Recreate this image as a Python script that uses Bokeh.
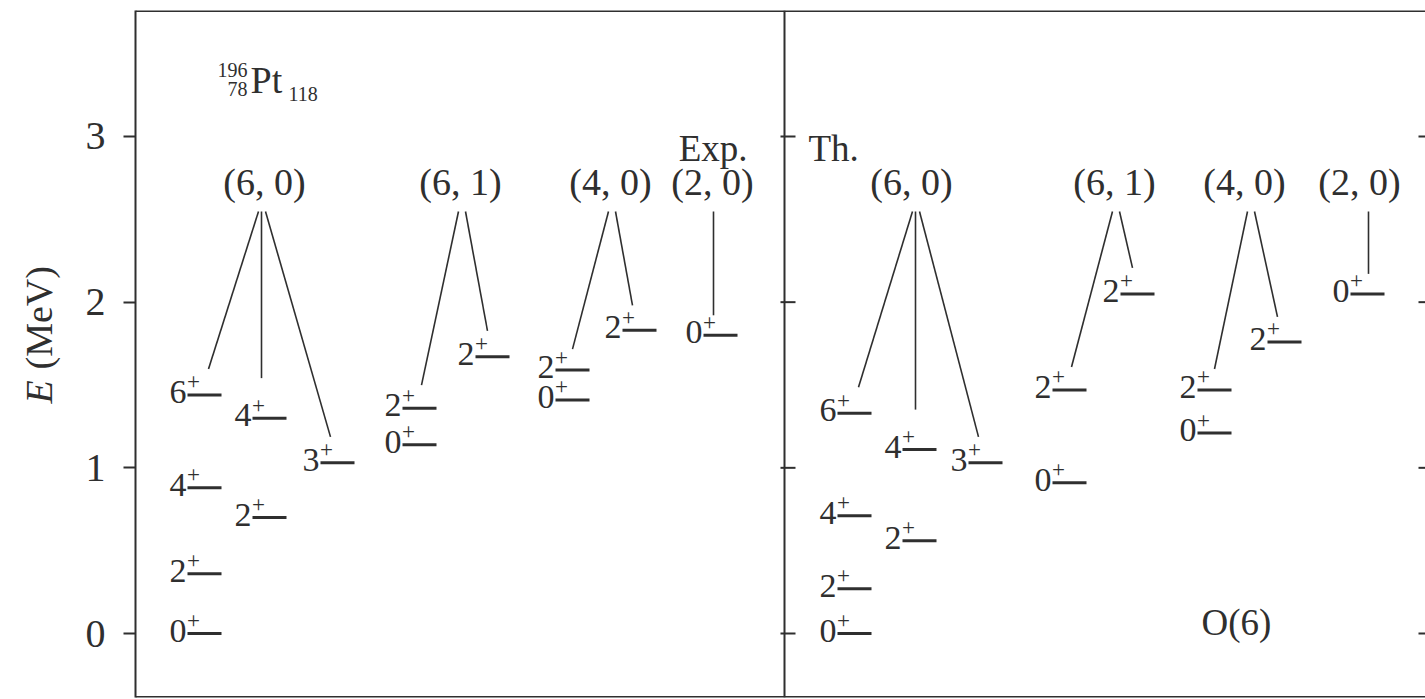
import math
from bokeh.plotting import figure
from bokeh.layouts import row as hrow
from bokeh.models import ColumnDataSource, Span, FixedTicker
from bokeh.core.properties import value
from bokeh.embed import file_html
from bokeh.resources import INLINE

# ---------------- level scheme data (energies in MeV) ----------------
spins      = [0, 2, 4, 2, 6, 4, 3, 0, 2, 2, 0, 2, 2, 0]
band_of    = ["gs", "gs", "gs", "gs",
              "(6, 0)", "(6, 0)", "(6, 0)",
              "(6, 1)", "(6, 1)", "(6, 1)",
              "(4, 0)", "(4, 0)", "(4, 0)",
              "(2, 0)"]
exp_energy = [0.00, 0.36, 0.88, 0.70, 1.44, 1.30, 1.03, 1.14, 1.36, 1.67, 1.41, 1.59, 1.83, 1.80]
th_energy  = [0.00, 0.27, 0.71, 0.56, 1.33, 1.11, 1.03, 0.91, 1.47, 2.05, 1.21, 1.47, 1.76, 2.05]
band_names = ["(6, 0)", "(6, 1)", "(4, 0)", "(2, 0)"]
energy_ticks = [0, 1, 2, 3]

# ---------------- page geometry ----------------
W, H = 1425, 699
SIDE_W = 70                         # strip that carries the energy-axis title
FRAME_L, FRAME_T, FRAME_B = 135, 10, 2
PX_PER_MEV = 165.67
ZERO_ROW = 633                      # pixel row of E = 0
frame_w = W - FRAME_L
frame_h = H - FRAME_T - FRAME_B
y_top = (ZERO_ROW - FRAME_T) / PX_PER_MEV
y_bot = y_top - frame_h / PX_PER_MEV
PANEL_W = 649                       # width of each of the two panels


def px(n):
    """pixels -> MeV on the energy axis"""
    return n / PX_PER_MEV


def row(r):
    """pixel row -> energy"""
    return (ZERO_ROW - r) / PX_PER_MEV


# column of each level inside a panel, and how its connector is drawn
level_col = ["A", "A", "A", "B", "A", "B", "C", "D", "D", "E", "F", "F", "G", "H"]
# (branch, dx from line start, px above line) ; None = no connector
connector = [None, None, None, None,
             ("L", 21, 26), ("V", 0, 40), ("R", 10, 26),
             None, ("L", 19, 23), ("R", 12, 26),
             None, ("L", 17, 21), ("R", 10, 25),
             ("V", 0, 20)]

LAYOUT = {
    "Exp": dict(x0=0,
                cols=dict(A=52, B=117, C=185, D=267, E=340, F=420, G=487, H=568),
                label_x={"(6, 0)": 129, "(6, 1)": 325, "(4, 0)": 475, "(2, 0)": 577},
                apex_x={"(6, 0)": 126, "(6, 1)": 326, "(4, 0)": 476, "(2, 0)": 578}),
    "Th": dict(x0=PANEL_W,
               cols=dict(A=53, B=118, C=184, D=268, E=336, F=413, G=483, H=566),
               label_x={"(6, 0)": 127, "(6, 1)": 330, "(4, 0)": 460, "(2, 0)": 575},
               apex_x={"(6, 0)": 131, "(6, 1)": 331, "(4, 0)": 466, "(2, 0)": 584}),
}
LINE_LEN = 34
APEX_E = row(211)
BAND_LABEL_E = row(181)

INK = "#2f2f2f"
SERIF = "Liberation Serif"

lv = dict(x0=[], x1=[], y=[], dx=[], dy=[], px_=[], py=[], spin=[], plus=[])
cn = dict(x0=[], y0=[], x1=[], y1=[])
bl = dict(x=[], y=[], text=[])

for panel, energies in (("Exp", exp_energy), ("Th", th_energy)):
    L = LAYOUT[panel]
    for i, (J, E) in enumerate(zip(spins, energies)):
        xs = L["x0"] + L["cols"][level_col[i]]
        lv["x0"].append(xs)
        lv["x1"].append(xs + LINE_LEN)
        lv["y"].append(E)
        lv["dx"].append(xs - 1)
        lv["dy"].append(E + px(3))
        lv["px_"].append(xs + 6)
        lv["py"].append(E + px(13))
        lv["spin"].append(str(J))
        lv["plus"].append("+")
        c = connector[i]
        if c is None:
            continue
        kind, ddx, ddy = c
        ax = L["x0"] + L["apex_x"][band_of[i]]
        if kind == "V":
            cn["x0"].append(ax); cn["x1"].append(ax)
        else:
            cn["x0"].append(ax - 3 if kind == "L" else ax + 4)
            cn["x1"].append(xs + ddx)
        cn["y0"].append(APEX_E)
        cn["y1"].append(E + px(ddy))
    for name in band_names:
        bl["x"].append(L["x0"] + L["label_x"][name])
        bl["y"].append(BAND_LABEL_E)
        bl["text"].append(name)

p = figure(width=W - SIDE_W, height=H, x_range=(0, frame_w), y_range=(y_bot, y_top),
           output_backend="svg", toolbar_location=None,
           x_axis_location=None, y_axis_location="left",
           min_border_left=FRAME_L - SIDE_W, min_border_top=FRAME_T,
           min_border_bottom=FRAME_B, min_border_right=0)
p.grid.visible = False
p.outline_line_color = None
p.background_fill_color = "white"
p.border_fill_color = "white"

# energy axis
ax = p.yaxis[0]
ax.ticker = FixedTicker(ticks=energy_ticks)
ax.minor_tick_line_color = None
ax.major_tick_in = 0
ax.major_tick_out = 12
ax.major_tick_line_width = 2
ax.major_tick_line_color = INK
ax.axis_line_width = 2
ax.axis_line_color = INK
ax.major_label_standoff = 18
ax.major_label_text_font = SERIF
ax.major_label_text_font_size = "40px"
ax.major_label_text_color = INK

# frame: top, bottom and the divider between the two panels
p.add_layout(Span(location=y_top, dimension="width", line_color=INK, line_width=3))
p.add_layout(Span(location=y_bot, dimension="width", line_color=INK, line_width=3))
p.add_layout(Span(location=PANEL_W, dimension="height", line_color=INK, line_width=2))

# tick marks on the divider and on the right edge
p.segment(x0=[PANEL_W - 4] * len(energy_ticks), x1=[PANEL_W + 11] * len(energy_ticks),
          y0=energy_ticks, y1=energy_ticks, line_color=INK, line_width=2)
p.segment(x0=[frame_w - 7] * len(energy_ticks), x1=[frame_w] * len(energy_ticks),
          y0=energy_ticks, y1=energy_ticks, line_color=INK, line_width=2)

src = ColumnDataSource(lv)
p.segment(x0="x0", x1="x1", y0="y", y1="y", source=src, line_color=INK, line_width=3)
p.text(x="dx", y="dy", text="spin", source=src, text_font=value(SERIF),
       text_font_size="34px", text_color=INK, text_align="right", text_baseline="middle")
p.text(x="px_", y="py", text="plus", source=src, text_font=value(SERIF),
       text_font_size="23px", text_color=INK, text_align="center", text_baseline="middle")

p.segment(x0="x0", y0="y0", x1="x1", y1="y1", source=ColumnDataSource(cn),
          line_color=INK, line_width=1.6)

p.text(x="x", y="y", text="text", source=ColumnDataSource(bl), text_font=value(SERIF),
       text_font_size="38px", text_color=INK, text_align="center", text_baseline="middle")

# panel captions
p.text(x=[612], y=[row(148)], text=["Exp."], text_font=value(SERIF), text_font_size="37px",
       text_color=INK, text_align="right", text_baseline="middle")
p.text(x=[PANEL_W + 24], y=[row(148)], text=["Th."], text_font=value(SERIF), text_font_size="37px",
       text_color=INK, text_align="left", text_baseline="middle")
p.text(x=[PANEL_W + 452], y=[row(622)], text=["O(6)"], text_font=value(SERIF), text_font_size="37px",
       text_color=INK, text_align="center", text_baseline="middle")

# nucleus symbol with mass, proton and neutron numbers
p.text(x=[112], y=[row(69)], text=["196"], text_font=value(SERIF), text_font_size="20px",
       text_color=INK, text_align="right", text_baseline="middle")
p.text(x=[112], y=[row(88)], text=["78"], text_font=value(SERIF), text_font_size="20px",
       text_color=INK, text_align="right", text_baseline="middle")
p.text(x=[115], y=[row(79)], text=["Pt"], text_font=value(SERIF), text_font_size="38px",
       text_color=INK, text_align="left", text_baseline="middle")
p.text(x=[153], y=[row(93)], text=["118"], text_font=value(SERIF), text_font_size="20px",
       text_color=INK, text_align="left", text_baseline="middle")

# strip on the left holding the energy-axis title: italic E followed by the unit
side = figure(width=SIDE_W, height=H, x_range=(0, SIDE_W), y_range=p.y_range,
              output_backend="svg", toolbar_location=None,
              x_axis_location=None, y_axis_location=None,
              min_border_left=0, min_border_right=0,
              min_border_top=FRAME_T, min_border_bottom=FRAME_B)
side.grid.visible = False
side.outline_line_color = None
side.background_fill_color = "white"
side.border_fill_color = "white"
side.text(x=[38], y=[row(403)], text=["E"], angle=math.pi / 2, text_font=value(SERIF),
          text_font_size="38px", text_font_style="italic", text_color=INK,
          text_align="left", text_baseline="middle")
side.text(x=[38], y=[row(369)], text=["(MeV)"], angle=math.pi / 2, text_font=value(SERIF),
          text_font_size="38px", text_color=INK, text_align="left", text_baseline="middle")

layout = hrow(side, p)
open("out.html", "w").write(file_html(layout, INLINE))
